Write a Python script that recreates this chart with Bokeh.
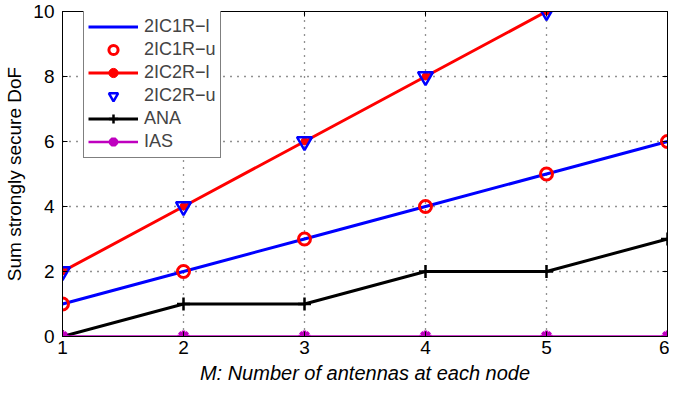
from bokeh.plotting import figure
from bokeh.models import Range1d, LinearAxis, FixedTicker, Legend, LegendItem
from bokeh.embed import file_html
from bokeh.resources import INLINE

# ---- data ----
M = [1, 2, 3, 4, 5, 6]
ic1r_l = [1, 2, 3, 4, 5, 6]
ic1r_u = [1, 2, 3, 4, 5, 6]
M2 = [1, 2, 3, 4, 5]
ic2r_l = [2, 4, 6, 8, 10]
ic2r_u = [2, 4, 6, 8, 10]
ana = [0, 1, 1, 2, 2, 3]
ias = [0, 0, 0, 0, 0, 0]
x_ticks = [1, 2, 3, 4, 5, 6]
y_ticks = [0, 2, 4, 6, 8, 10]
labels = ["2IC1R\u2212l", "2IC1R\u2212u", "2IC2R\u2212l", "2IC2R\u2212u", "ANA", "IAS"]

FONT = "Liberation Sans"
BLUE = "#0000ff"
RED = "#ff0000"
MAG = "#bf00bf"

p = figure(width=669, height=386, output_backend="svg", toolbar_location=None,
           x_range=Range1d(1, 6), y_range=Range1d(0, 10),
           min_border_left=62, min_border_right=2, min_border_top=11, min_border_bottom=48,
           x_axis_label="M: Number of antennas at each node",
           y_axis_label="Sum strongly secure DoF")
p.background_fill_color = "white"
p.border_fill_color = "white"
p.outline_line_color = "black"
p.outline_line_width = 1

# axes
for ax in (p.xaxis[0], p.yaxis[0]):
    ax.major_label_text_font = FONT
    ax.major_label_text_font_size = "19px"
    ax.major_label_text_color = "black"
    ax.axis_label_text_font = FONT
    ax.axis_label_text_font_size = "19px"
    ax.axis_label_text_color = "black"
    ax.major_tick_in = 5
    ax.major_tick_out = 0
    ax.minor_tick_line_color = None
    ax.axis_line_color = "black"
    ax.major_tick_line_color = "black"
p.xaxis.ticker = FixedTicker(ticks=x_ticks)
p.yaxis.ticker = FixedTicker(ticks=y_ticks)
p.xaxis.axis_label_text_font_style = "italic"
p.xaxis.axis_label_text_font_size = "20px"
p.yaxis.axis_label_text_font_style = "normal"
p.xaxis.major_label_standoff = 4
p.yaxis.major_label_standoff = 8
p.xaxis.axis_label_standoff = 5
p.yaxis.axis_label_standoff = 5

for loc in ("right", "above"):
    ticks = y_ticks if loc == "right" else x_ticks
    ax = LinearAxis(ticker=FixedTicker(ticks=ticks),
                    major_label_overrides={t: "" for t in ticks},
                    major_tick_in=5, major_tick_out=0,
                    minor_tick_line_color=None, axis_line_color="black",
                    major_tick_line_color="black", major_label_standoff=0)
    p.add_layout(ax, loc)

# grid
p.xgrid.ticker = FixedTicker(ticks=x_ticks)
p.ygrid.ticker = FixedTicker(ticks=y_ticks)
p.grid.grid_line_color = "#222222"
p.grid.grid_line_dash = "1 6"
p.grid.grid_line_width = 1.3

# series
r1 = p.line(M, ic1r_l, line_color=BLUE, line_width=3)
r2 = p.scatter(M, ic1r_u, marker="circle", size=12, fill_color=None, line_color=RED, line_width=3)
r3l = p.line(M2, ic2r_l, line_color=RED, line_width=3)
r3m = p.scatter(M2, ic2r_l, marker="circle", size=7, fill_color=RED, line_color=RED)
r4 = p.scatter(M2, ic2r_u, marker="inverted_triangle", size=15, fill_color=None, line_color=BLUE, line_width=2.5)
r5l = p.line(M, ana, line_color="black", line_width=3)
r5m = p.scatter(M, ana, marker="cross", size=13, line_color="black", line_width=2.5)
r6l = p.line(M, ias, line_color=MAG, line_width=2.5)
r6m = p.scatter(M, ias, marker="asterisk", size=12, line_color=MAG, line_width=3.5)

items = [
    LegendItem(label=labels[0], renderers=[r1]),
    LegendItem(label=labels[1], renderers=[r2]),
    LegendItem(label=labels[2], renderers=[r3l, r3m]),
    LegendItem(label=labels[3], renderers=[r4]),
    LegendItem(label=labels[4], renderers=[r5l, r5m]),
    LegendItem(label=labels[5], renderers=[r6l, r6m]),
]
legend = Legend(items=items, location=(21, 178), padding=4, spacing=0,
                glyph_width=50, glyph_height=23, label_height=23, label_standoff=6,
                label_text_font=FONT, label_text_font_size="18px",
                border_line_color="black", border_line_width=1.2,
                background_fill_color="white", background_fill_alpha=1.0, margin=0)
p.add_layout(legend, "center")

open("out.html", "w").write(file_html(p, INLINE))
